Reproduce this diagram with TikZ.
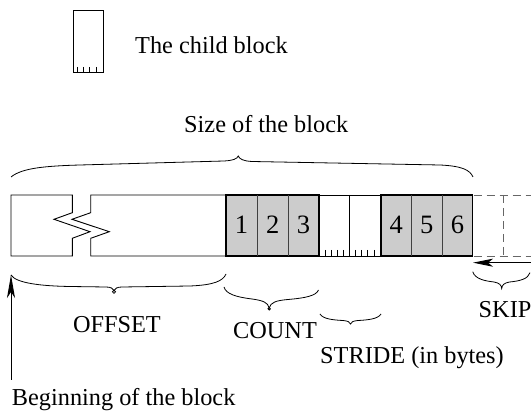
\documentclass[tikz,border=0pt]{standalone}
\usepackage{fontspec}
\setmainfont{Liberation Serif}
\usetikzlibrary{arrows.meta}
\definecolor{cellgray}{RGB}{204,204,204}
\begin{document}
\begin{tikzpicture}[x=1pt,y=-1pt,
  lbl/.style={inner sep=0pt,font=\fontsize{24.3}{29}\selectfont},
  digit/.style={inner sep=0pt,font=\fontsize{26.5}{30}\selectfont,anchor=base},
  outl/.style={line width=0.9pt,line join=miter},
  grp/.style={fill=cellgray,draw=black,line width=1.5pt},
  divd/.style={draw=black!75,line width=0.9pt},
  tick/.style={line width=0.7pt},
  dsh/.style={draw=black!60,line width=0.9pt,dash pattern=on 8pt off 5pt},
  brc/.style={line width=0.8pt},
  arr/.style={line width=0.9pt,-{Stealth[length=20pt,width=8pt,inset=5pt]}}]
\useasboundingbox (0,0) rectangle (531,411);
% legend
\draw[outl] (73,10) rectangle (103,72);
\foreach \tx in {77,83,89,96} \draw[tick] (\tx,67) -- (\tx,72);
\node[lbl,anchor=base west] (legend) at (135,53.3) {The child block};
% size brace
\draw[brc] (11,177) .. controls (22,168) and (45,166) .. (80,165) -- (224,161)
  .. controls (233,160.5) and (237,159) .. (238.3,156)
  .. controls (239.5,159) and (243,161) .. (252,161.5) -- (440,165)
  .. controls (462,166) and (470,170) .. (473,177);
\node[lbl,anchor=base west] (size) at (184,133) {Size of the block};
% block: left piece
\draw[outl] (72.3,195) -- (11,195) -- (11,256) -- (72.3,256) -- (72.3,238.3)
  -- (90,231.7) -- (54,219.3) -- (72.3,212.7) -- cycle;
% right piece
\draw[outl] (226,195) -- (90.7,195) -- (90.7,212.7) -- (72,219.3) -- (109.3,231.7)
  -- (90.7,238.3) -- (90.7,256) -- (226,256);
% white cells
\draw[outl] (319,195) -- (381,195) (319,256) -- (381,256);
\draw[outl] (349.3,195) -- (349.3,256);
\foreach \tx in {325,331,337.3,343.3,355.7,361.7,367.7,374} \draw[tick] (\tx,250) -- (\tx,256);
% gray groups
\draw[grp] (226,195) rectangle (319,256);
\draw[divd] (257,195) -- (257,256) (288.3,195) -- (288.3,256);
\draw[grp] (381,195) rectangle (472.7,256);
\draw[divd] (411.5,195) -- (411.5,256) (442,195) -- (442,256);
\node[digit] (c1) at (241.5,233.5) {1};
\node[digit] (c2) at (272.7,233.5) {2};
\node[digit] (c3) at (303.6,233.5) {3};
\node[digit] (c4) at (396.2,233.5) {4};
\node[digit] (c5) at (426.8,233.5) {5};
\node[digit] (c6) at (457.4,233.5) {6};
% dashed next block
\draw[dsh] (473.5,195) -- (540,195) (473.5,256) -- (540,256);
\draw[dsh] (503.3,195) -- (503.3,256);
% skip arrow
\coordinate (skipfrom) at (535,262.7);
\coordinate (skipto) at (473,262.7);
\draw[arr] (skipfrom) -- (skipto);
% beginning arrow
\coordinate (begfrom) at (11,380);
\coordinate (begto) at (11,275);
\draw[arr,-{Stealth[length=23pt,width=8pt,inset=6pt]}] (begfrom) -- (begto);
\node[lbl,anchor=base west] (beg) at (11.8,405.5) {Beginning of the block};
% offset brace
\draw[brc] (11,275) .. controls (16,283) and (40,286) .. (70,286.5) -- (106,287)
  .. controls (111,287) and (113,288.5) .. (114,290.5)
  .. controls (115,288.5) and (117,287) .. (122,287) -- (190,286)
  .. controls (214,285) and (223,281) .. (226,274);
\draw[brc] (114,291.8) circle[radius=1.6pt];
\node[lbl,anchor=base west] (offset) at (72.8,333) {OFFSET};
% count brace
\draw[brc] (224,287) .. controls (226,294) and (236,297) .. (252,299)
  .. controls (263,300.5) and (268,302.5) .. (269.2,308)
  .. controls (270.5,302.5) and (276,300.5) .. (288,299.5)
  .. controls (305,298) and (316,296) .. (318.5,290);
\draw[brc] (269.2,308.8) circle[radius=1.2pt];
\node[lbl,anchor=base west] (count) at (233,339) {COUNT};
% stride brace
\draw[brc] (320,314) .. controls (323,319) and (333,320) .. (343,320.5)
  .. controls (348,321) and (350,322) .. (350.5,324)
  .. controls (351,322) and (353,321) .. (358,320.5)
  .. controls (368,320) and (378,319) .. (381,314);
\node[lbl,anchor=base west] (stride) at (320,363.5) {STRIDE (in bytes)};
% skip brace
\draw[brc] (472.7,271.7) .. controls (475,279) and (485,281) .. (494,282)
  .. controls (499.5,283) and (501.3,285) .. (501.7,288.5)
  .. controls (502.1,285) and (504,283) .. (509.5,282)
  .. controls (520,281) and (528,279) .. (530,272.7);
\node[lbl,anchor=base west] (skip) at (478.5,318) {SKIP};
\end{tikzpicture}
\end{document}
